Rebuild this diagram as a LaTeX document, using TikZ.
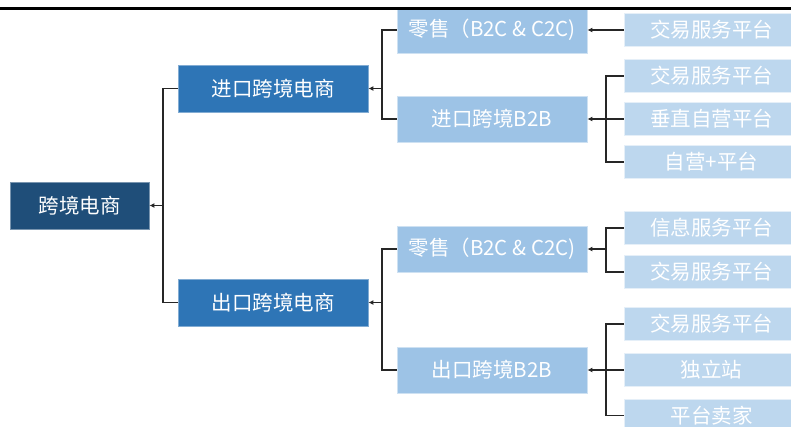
\documentclass[tikz,border=0pt]{standalone}
\usepackage{fontspec}
\newfontfamily\cjk{Noto Sans CJK SC}
\usetikzlibrary{arrows.meta}
\definecolor{rootc}{HTML}{1F4E79}
\definecolor{lvone}{HTML}{2E75B6}
\definecolor{lvtwo}{HTML}{9DC3E6}
\definecolor{leafc}{HTML}{BDD7EE}
\definecolor{linec}{HTML}{262626}
\begin{document}
\begin{tikzpicture}[x=1pt,y=-1pt,
  box/.style={rectangle,inner sep=0pt,text=white,font=\cjk\fontsize{20.5}{24}\selectfont,line width=0.8pt},
  rootbox/.style={box,fill=rootc,draw=rootc!60!white,minimum width=139pt,minimum height=47pt},
  onebox/.style={box,fill=lvone,draw=lvone!60!white,minimum width=190pt,minimum height=47pt},
  twobox/.style={box,fill=lvtwo,draw=lvtwo!50!white,minimum width=190pt,minimum height=46pt},
  leafbox/.style={box,fill=leafc,draw=leafc!40!white,minimum width=175pt,minimum height=33pt},
  conn/.style={draw=linec,line width=1.3pt},
  arr/.style={conn,-{Latex[length=5pt,width=5pt]}}
]
\useasboundingbox (0,0) rectangle (791,426);
\clip (0,0) rectangle (791,426);
\fill[white] (0,0) rectangle (791,426);

% nodes
\node[rootbox] (root) at (79.5,205.5) {跨境电商};
\node[onebox] (imp) at (273,88.5) {进口跨境电商};
\node[onebox] (exp) at (273,302.5) {出口跨境电商};
\node[twobox] (impr) at (492,30) {零售（B2C \& C2C)};
\node[twobox] (impb) at (492,119) {进口跨境B2B};
\node[twobox] (expr) at (492,249) {零售（B2C \& C2C)};
\node[twobox] (expb) at (492,370) {出口跨境B2B};
\node[leafbox] (l1) at (711.5,30) {交易服务平台};
\node[leafbox] (l2) at (711.5,76) {交易服务平台};
\node[leafbox] (l3) at (711.5,119) {垂直自营平台};
\node[leafbox] (l4) at (711.5,162) {自营+平台};
\node[leafbox] (l5) at (711.5,228) {信息服务平台};
\node[leafbox] (l6) at (711.5,272) {交易服务平台};
\node[leafbox] (l7) at (711.5,324) {交易服务平台};
\node[leafbox] (l8) at (711.5,370) {独立站};
\node[leafbox] (l9) at (711.5,415.5) {平台卖家};

% junctions
\coordinate (jr) at (163,205.5);
\coordinate (ji) at (382,88.5);
\coordinate (je) at (382,302.5);
\coordinate (jib) at (606,119);
\coordinate (jer) at (606,249);
\coordinate (jeb) at (606,370);

% connectors
\draw[conn] (imp.west) -| (jr);
\draw[conn] (exp.west) -| (jr);
\draw[arr] (jr) -- (root.east);

\draw[conn] (impr.west) -| (ji);
\draw[conn] (impb.west) -| (ji);
\draw[arr] (ji) -- (imp.east);

\draw[conn] (expr.west) -| (je);
\draw[conn] (expb.west) -| (je);
\draw[arr] (je) -- (exp.east);

\draw[arr] (l1.west) -- (impr.east);

\draw[conn] (l2.west) -| (jib);
\draw[conn] (l3.west) -- (jib);
\draw[conn] (l4.west) -| (jib);
\draw[arr] (jib) -- (impb.east);

\draw[conn] (l5.west) -| (jer);
\draw[conn] (l6.west) -| (jer);
\draw[arr] (jer) -- (expr.east);

\draw[conn] (l7.west) -| (jeb);
\draw[conn] (l8.west) -- (jeb);
\draw[conn] (l9.west) -| (jeb);
\draw[arr] (jeb) -- (expb.east);

% top rule
\fill[black] (0,6.5) rectangle (791,9.5);
\end{tikzpicture}
\end{document}
